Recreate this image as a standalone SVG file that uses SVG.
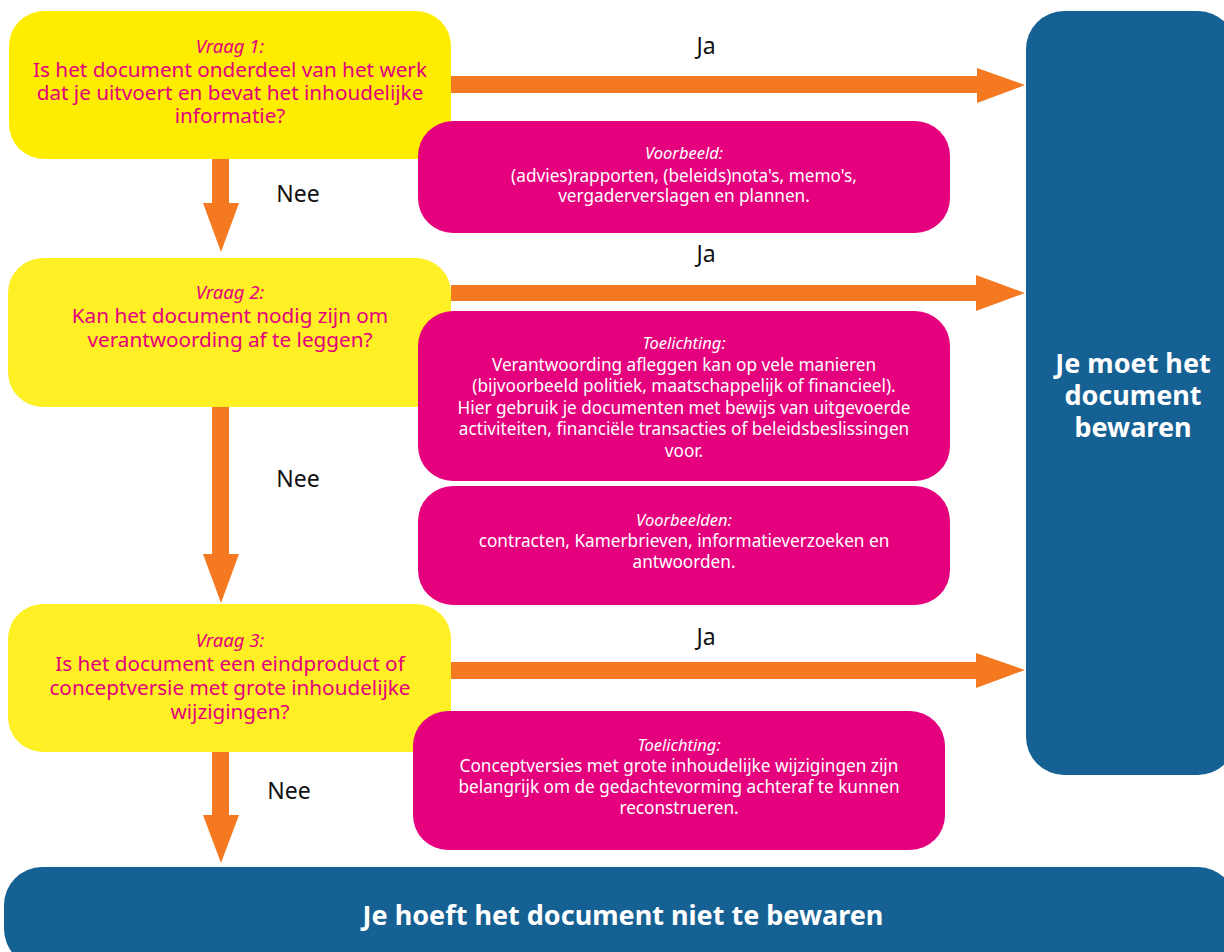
<svg xmlns="http://www.w3.org/2000/svg" width="1224" height="952" viewBox="0 0 1224 952">
<defs>
<style>
.yb{fill:#FFEF25}
.yb1{fill:#FFED00}
.pb{fill:#E5007D}
.bb{fill:#166194}
.arr{fill:#F47920}
.qt{font-family:"Noto Sans","Open Sans",sans-serif;font-size:20.7px;fill:#E5007D;text-anchor:middle}
.qi{font-style:italic;font-size:18.5px}
.pt{font-family:"Noto Sans","Open Sans",sans-serif;font-size:17.2px;fill:#FFFFFF;text-anchor:middle}
.pi{font-style:italic;font-size:16.5px}
.lbl{font-family:"Noto Sans","Open Sans",sans-serif;font-size:23px;fill:#111111;text-anchor:middle}
.bt{font-family:"Noto Sans","Open Sans",sans-serif;font-weight:bold;fill:#FFFFFF;text-anchor:middle}
</style>
</defs>
<rect width="1224" height="952" fill="#FFFFFF"/>

<g id="q1">
<rect class="yb1" x="9" y="11" width="442" height="148" rx="35"/>
<text class="qt"><tspan class="qi" x="230" y="53">Vraag 1:</tspan><tspan x="230" y="77">Is het document onderdeel van het werk</tspan><tspan x="230" y="100">dat je uitvoert en bevat het inhoudelijke</tspan><tspan x="230" y="123">informatie?</tspan></text>
</g>

<g id="q2">
<rect class="yb" x="8" y="258" width="443" height="149" rx="35"/>
<text class="qt"><tspan class="qi" x="230" y="299">Vraag 2:</tspan><tspan x="230" y="323">Kan het document nodig zijn om</tspan><tspan x="230" y="347">verantwoording af te leggen?</tspan></text>
</g>

<g id="q3">
<rect class="yb" x="8" y="604" width="443" height="148" rx="35"/>
<text class="qt"><tspan class="qi" x="230" y="647">Vraag 3:</tspan><tspan x="230" y="671">Is het document een eindproduct of</tspan><tspan x="230" y="695">conceptversie met grote inhoudelijke</tspan><tspan x="230" y="719">wijzigingen?</tspan></text>
</g>

<g id="n1">
<rect class="pb" x="418" y="121" width="532" height="112" rx="35"/>
<text class="pt"><tspan class="pi" x="684" y="159">Voorbeeld:</tspan><tspan x="684" y="182">(advies)rapporten, (beleids)nota's, memo's,</tspan><tspan x="684" y="202">vergaderverslagen en plannen.</tspan></text>
</g>

<g id="n2">
<rect class="pb" x="418" y="311" width="532" height="170" rx="35"/>
<text class="pt"><tspan class="pi" x="684" y="349">Toelichting:</tspan><tspan x="684" y="371">Verantwoording afleggen kan op vele manieren</tspan><tspan x="684" y="392">(bijvoorbeeld politiek, maatschappelijk of financieel).</tspan><tspan x="684" y="414">Hier gebruik je documenten met bewijs van uitgevoerde</tspan><tspan x="684" y="435">activiteiten, financiële transacties of beleidsbeslissingen</tspan><tspan x="684" y="457">voor.</tspan></text>
</g>

<g id="n3">
<rect class="pb" x="418" y="486" width="532" height="119" rx="35"/>
<text class="pt"><tspan class="pi" x="684" y="526">Voorbeelden:</tspan><tspan x="684" y="547">contracten, Kamerbrieven, informatieverzoeken en</tspan><tspan x="684" y="568">antwoorden.</tspan></text>
</g>

<g id="n4">
<rect class="pb" x="413" y="711" width="532" height="139" rx="35"/>
<text class="pt"><tspan class="pi" x="679" y="751">Toelichting:</tspan><tspan x="679" y="772">Conceptversies met grote inhoudelijke wijzigingen zijn</tspan><tspan x="679" y="793">belangrijk om de gedachtevorming achteraf te kunnen</tspan><tspan x="679" y="814">reconstrueren.</tspan></text>
</g>

<g id="keep">
<rect class="bb" x="1026" y="11" width="210" height="764" rx="38"/>
<text class="bt" font-size="27"><tspan x="1133" y="373">Je moet het</tspan><tspan x="1133" y="405">document</tspan><tspan x="1133" y="437">bewaren</tspan></text>
</g>

<g id="discard">
<rect class="bb" x="4" y="867" width="1232" height="100" rx="38"/>
<text class="bt" font-size="27" x="623" y="925">Je hoeft het document niet te bewaren</text>
</g>

<g id="connectors">
<polygon class="arr" points="451,76 977,76 977,68 1025,85 977,103 977,93 451,93"/>
<polygon class="arr" points="451,285 976,285 976,275 1025,293 976,311 976,301 451,301"/>
<polygon class="arr" points="451,662 976,662 976,653 1025,670 976,688 976,679 451,679"/>
<polygon class="arr" points="212,159 229,159 229,203 239,203 221,252 203,203 212,203"/>
<polygon class="arr" points="212,407 229,407 229,554 239,554 221,603 203,554 212,554"/>
<polygon class="arr" points="212,752 229,752 229,815 239,815 221,863 203,815 212,815"/>
<text class="lbl" x="706" y="54">Ja</text>
<text class="lbl" x="706" y="262">Ja</text>
<text class="lbl" x="706" y="645">Ja</text>
<text class="lbl" x="298" y="202">Nee</text>
<text class="lbl" x="298" y="487">Nee</text>
<text class="lbl" x="289" y="799">Nee</text>
</g>
</svg>
